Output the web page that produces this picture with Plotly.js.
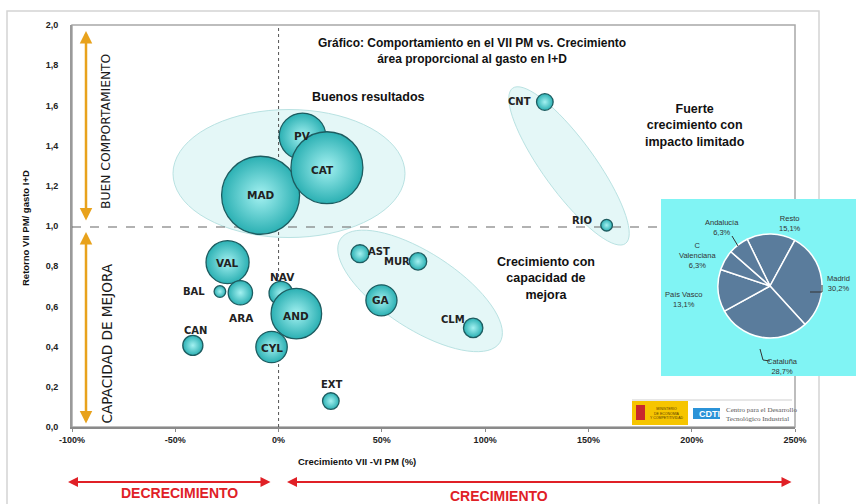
<!DOCTYPE html>
<html><head><meta charset="utf-8">
<script src="https://cdn.plot.ly/plotly-3.0.1.min.js"></script>
<style>html,body{margin:0;padding:0;background:#fff;}#chart{width:856px;height:504px;}</style>
</head><body><div id="chart"></div>
<script>
// ---------- data ----------
const regions     = ['MAD','PV','CAT','CNT','RIO','VAL','BAL','ARA','NAV','AND','CYL','CAN','EXT','AST','MUR','GA','CLM'];
const crecimiento = [-8.7, 11.6, 23.4, 128.9, 158.8, -24.7, -28.4, -18.5, 1.1, 8.6, -3.4, -41.5, 25.3, 39.4, 67.5, 49.8, 94.2];
const retorno     = [1.153, 1.446, 1.29, 1.617, 1.004, 0.82, 0.674, 0.668, 0.666, 0.564, 0.398, 0.406, 0.129, 0.862, 0.824, 0.63, 0.493];
const gasto       = [30.2, 10.8, 25.7, 1.37, 0.67, 9.2, 0.67, 2.95, 2.76, 12.7, 4.9, 2.0, 1.37, 1.6, 1.5, 4.8, 1.87];

const pieLabels  = ['Resto','Madrid','Cataluña','País Vasco','C Valenciana','Andalucía'];
const pieValues  = [15.1, 30.2, 28.7, 13.1, 6.3, 6.3];

const xTickVals = [-100,-50,0,50,100,150,200,250];
const yTickVals = [0,0.2,0.4,0.6,0.8,1.0,1.2,1.4,1.6,1.8,2.0];

// ---------- layout helpers (styles / positions) ----------
const W = 856, H = 504;
const PL = 72, PR = 795, PT = 25, PB = 427;
const px = v => v / W;
const py = v => 1 - v / H;
const xppu = (PR - PL) / 350, yppu = (PB - PT) / 2;

// label offsets in pixels [dx, dy(up)]
const labelOffsets = [[0,0],[0,0],[-4,-2],[-25,0],[-25,5],[0,-1],[-26,0],[1,-25],[2,16],[0,-2],[0,-1],[3,15],[1,17],[19,2],[-21,0],[0,0],[-20,8]];

function ellipsePath(cx, cy, a, b, angDeg) {
  const th = angDeg * Math.PI / 180;
  let d = '';
  for (let i = 0; i <= 72; i++) {
    const t = i / 72 * 2 * Math.PI;
    const dx = a * Math.cos(t) * Math.cos(th) - b * Math.sin(t) * Math.sin(th);
    const dy = a * Math.cos(t) * Math.sin(th) + b * Math.sin(t) * Math.cos(th);
    d += (i === 0 ? 'M' : 'L') + (cx + dx / xppu).toFixed(3) + ',' + (cy - dy / yppu).toFixed(4);
  }
  return d + 'Z';
}
const ellFill = 'rgba(214,243,243,0.65)', ellLine = '#b9e2e2';

const shapes = [
  {type:'rect', xref:'paper', yref:'paper', x0:px(7), x1:px(819), y0:py(530), y1:py(11), line:{color:'#d4d4d4', width:1.5}, layer:'below'},
  {type:'rect', xref:'paper', yref:'paper', x0:px(PL), x1:px(PR), y0:py(PB), y1:py(PT), line:{color:'#a8a8a8', width:1.5}, layer:'below'},
  {type:'rect', xref:'paper', yref:'paper', x0:px(661), x1:px(860), y0:py(376), y1:py(199), fillcolor:'#80f4f4', line:{width:0}, layer:'below'},
  {type:'line', xref:'paper', yref:'paper', x0:px(632), x1:px(792), y0:py(400), y1:py(400), line:{color:'#cfcfcf', width:1}, layer:'below'},
  {type:'rect', xref:'paper', yref:'paper', x0:px(632), x1:px(688), y0:py(425), y1:py(401), fillcolor:'#f6c500', line:{width:0}, layer:'below'},
  {type:'rect', xref:'paper', yref:'paper', x0:px(636), x1:px(645), y0:py(420), y1:py(405), fillcolor:'#c8282e', line:{width:0}, layer:'below'},
  {type:'rect', xref:'paper', yref:'paper', x0:px(693), x1:px(720), y0:py(419), y1:py(408), fillcolor:'#2b93d8', line:{width:0}, layer:'below'},
  {type:'path', xref:'x', yref:'y', path:ellipsePath(5.05, 1.261, 116, 64, 0), fillcolor:ellFill, line:{color:ellLine, width:1}, layer:'below'},
  {type:'path', xref:'x', yref:'y', path:ellipsePath(140.6, 1.299, 96, 26, 54), fillcolor:ellFill, line:{color:ellLine, width:1}, layer:'below'},
  {type:'path', xref:'x', yref:'y', path:ellipsePath(68.5, 0.677, 95, 38, 33), fillcolor:ellFill, line:{color:ellLine, width:1}, layer:'below'},
  {type:'line', xref:'x', yref:'y', x0:0, x1:0, y0:0, y1:2, line:{color:'#555', width:1, dash:'dot'}, layer:'below'},
  {type:'line', xref:'x', yref:'y', x0:-100, x1:185, y0:0.995, y1:0.995, line:{color:'#666', width:1.2, dash:'dash'}, layer:'below'},
  {type:'path', xref:'paper', yref:'paper', path:`M${px(738)},${py(246)} L${px(732)},${py(236)}`, line:{color:'#333', width:1}},
  {type:'path', xref:'paper', yref:'paper', path:`M${px(810)},${py(292)} L${px(822)},${py(292)} L${px(822)},${py(285)}`, line:{color:'#333', width:1}},
  {type:'path', xref:'paper', yref:'paper', path:`M${px(760)},${py(349)} L${px(763)},${py(360)} L${px(770)},${py(361)}`, line:{color:'#333', width:1}}
];

const annotations = [];
regions.forEach((r, i) => {
  annotations.push({x: crecimiento[i], y: retorno[i], xref:'x', yref:'y', text: r, showarrow:false,
    xanchor:'center', yanchor:'middle',
    xshift: labelOffsets[i][0], yshift: labelOffsets[i][1],
    font:{family:'DejaVu Sans, Arial, sans-serif', size: (gasto[i] > 2.5 ? 10.5 : 10), color:'#222', weight:'bold'}});
});
const pieLabelPos = [[790,223,'center'],[825,283,'left'],[782,366,'center'],[683,299,'center'],[697,255,'center'],[722,228,'center']];
pieLabels.forEach((l, i) => {
  const name = l === 'C Valenciana' ? 'C<br>Valenciana' : l;
  annotations.push({xref:'paper', yref:'paper', x: px(pieLabelPos[i][0]), y: py(pieLabelPos[i][1]),
    xanchor: pieLabelPos[i][2], yanchor:'middle', text: name + '<br>' + pieValues[i].toFixed(1).replace('.', ',') + '%',
    showarrow:false, align:'center', font:{family:'Arial, Liberation Sans, sans-serif', size:7.5, color:'#333'}});
});
const T = (text, x, y, font, extra) => Object.assign({xref:'paper', yref:'paper', x:px(x), y:py(y), text, showarrow:false,
  xanchor:'center', yanchor:'middle', font}, extra || {});
const boldF = s => ({family:'Arial, Liberation Sans, sans-serif', size:s, color:'#111', weight:'bold'});
annotations.push(
  T('Gráfico: Comportamiento en el VII PM vs. Crecimiento<br>área proporcional al gasto en I+D', 472, 51, boldF(12)),
  T('Buenos resultados', 368, 97, boldF(12.5)),
  T('Fuerte<br>crecimiento con<br>impacto limitado', 695, 125, boldF(12.5)),
  T('Crecimiento con<br>capacidad de<br>mejora', 546, 278, boldF(12.5)),
  T('BUEN COMPORTAMIENTO', 106, 132, {family:'DejaVu Sans, sans-serif', size:12.3, color:'#1a1a1a'}, {textangle:-90}),
  T('CAPACIDAD DE MEJORA', 106, 343.5, {family:'DejaVu Sans, sans-serif', size:13.6, color:'#1a1a1a'}, {textangle:-90}),
  T('Retorno VII PM/ gasto I+D', 26, 228, boldF(9.5), {textangle:-90}),
  T('Crecimiento VII -VI PM (%)', 357, 461, boldF(9.5)),
  T('DECRECIMIENTO', 179, 493, {family:'Liberation Sans Narrow, Arial Narrow, Arial, sans-serif', size:14, color:'#e02026', weight:'bold'}),
  T('CRECIMIENTO', 499, 496, {family:'Liberation Sans Narrow, Arial Narrow, Arial, sans-serif', size:14, color:'#e02026', weight:'bold'}),
  T('CDTI', 709, 413.5, {family:'Arial, sans-serif', size:9, color:'#fff', weight:'bold'}),
  T('MINISTERIO<br>DE ECONOMÍA<br>Y COMPETITIVIDAD', 666, 413, {family:'Arial, sans-serif', size:3.5, color:'#5a3a00'}),
  T('Centro para el Desarrollo<br>Tecnológico Industrial', 724, 414, {family:'Liberation Serif, DejaVu Serif, serif', size:7, color:'#555'}, {xanchor:'left', align:'left'})
);
const arrow = (hx, hy, ax, ay, color, w) => ({xref:'paper', yref:'paper', x:px(hx), y:py(hy), ax, ay, text:'', showarrow:true,
  arrowside:'end+start', arrowhead:2, arrowsize:1, arrowwidth:w, arrowcolor:color, standoff:0, startstandoff:0});
annotations.push(
  arrow(86, 31, 0, 191, '#e8a21c', 2.5),
  arrow(86, 232, 0, 193, '#e8a21c', 2.5),
  arrow(68, 482, 204, 0, '#e02026', 2),
  arrow(287, 482, 506, 0, '#e02026', 2)
);

const sizeref = 2 * 30.2 / (78 * 78);
const traces = [
  {type:'scatter', mode:'markers', x: crecimiento, y: retorno, text: regions, hoverinfo:'text',
   marker:{size: gasto, sizemode:'area', sizeref: sizeref, color:'#2bb0b3',
           gradient:{type:'radial', color:'#a4f1f1'}, line:{color:'#1d5c60', width:1.3}, opacity:1},
   showlegend:false, cliponaxis:false},
  {type:'pie', labels: pieLabels, values: pieValues, sort:false, direction:'clockwise', rotation:-26,
   textinfo:'none', hoverinfo:'label+percent', showlegend:false,
   marker:{colors: pieLabels.map(() => '#5a7c9c'), line:{color:'#ffffff', width:1.5}},
   domain:{x:[px(770-52), px(770+52)], y:[py(286+52), py(286-52)]}}
];

const tickFont = {family:'Arial, Liberation Sans, sans-serif', size:9, color:'#222', weight:'bold'};
const layout = {
  width: W, height: H, margin:{l:0, r:0, t:0, b:0, pad:0},
  paper_bgcolor:'#ffffff', plot_bgcolor:'rgba(0,0,0,0)',
  separators:',.',
  showlegend:false,
  xaxis:{domain:[px(PL), px(PR)], range:[-100,250], tickvals:xTickVals, ticktext:xTickVals.map(v => v + '%'),
         showgrid:false, zeroline:false, showline:true, linecolor:'#8a8a8a', linewidth:2,
         ticks:'outside', ticklen:3, tickcolor:'#8a8a8a', tickfont:tickFont, fixedrange:true},
  yaxis:{domain:[py(PB), py(PT)], range:[0,2], tickvals:yTickVals, tickformat:'.1f',
         showgrid:false, zeroline:false, showline:true, linecolor:'#9a9a9a', linewidth:2,
         ticks:'', ticklabelstandoff:10, tickfont:tickFont, fixedrange:true},
  shapes, annotations
};
Plotly.newPlot('chart', traces, layout, {displayModeBar:false, staticPlot:true});
</script></body></html>
